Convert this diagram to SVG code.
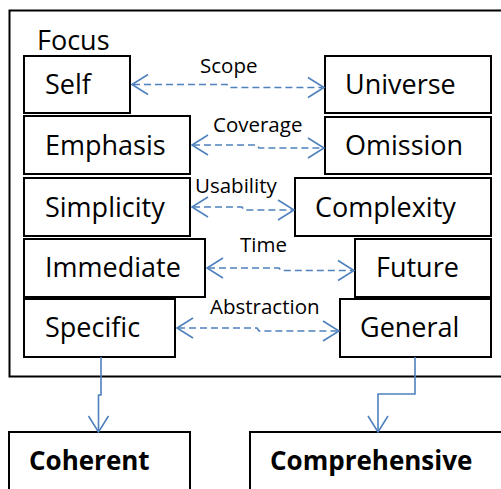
<svg xmlns="http://www.w3.org/2000/svg" width="501" height="489" viewBox="0 0 501 489">
<style>
.box{fill:#fff;stroke:#000;stroke-width:2}
.t{font-family:"Open Sans","Liberation Sans",sans-serif;font-size:27px;fill:#000}
.b{font-weight:bold;font-size:26px}
.lbl{font-family:"Open Sans","Liberation Sans",sans-serif;font-size:20.5px;fill:#000}
.c{fill:none;stroke:#4F81BD;stroke-width:1.6}
.d{stroke-dasharray:7,4}
</style>
<rect width="501" height="489" fill="#fff"/>
<g id="focus">
<rect x="9.5" y="10.5" width="500" height="366" fill="#fff" stroke="#000" stroke-width="2"/>
<text class="t" x="37" y="50">Focus</text>
</g>
<g id="self"><rect class="box" x="24" y="56" width="106" height="57"/><text class="t" x="45" y="94">Self</text></g>
<g id="emphasis"><rect class="box" x="24" y="116" width="166" height="58"/><text class="t" x="45" y="155">Emphasis</text></g>
<g id="simplicity"><rect class="box" x="24" y="178" width="166" height="58"/><text class="t" x="45" y="217">Simplicity</text></g>
<g id="immediate"><rect class="box" x="24" y="239" width="181" height="58"/><text class="t" x="45" y="277">Immediate</text></g>
<g id="specific"><rect class="box" x="24" y="299" width="151" height="58"/><text class="t" x="45" y="337">Specific</text></g>
<g id="universe"><rect class="box" x="325" y="56" width="166" height="57"/><text class="t" x="345" y="94">Universe</text></g>
<g id="omission"><rect class="box" x="325" y="117" width="166" height="57"/><text class="t" x="345" y="155">Omission</text></g>
<g id="complexity"><rect class="box" x="295" y="178" width="196" height="58"/><text class="t" x="315" y="217">Complexity</text></g>
<g id="future"><rect class="box" x="355" y="239" width="136" height="58"/><text class="t" x="376" y="277">Future</text></g>
<g id="general"><rect class="box" x="340" y="299" width="151" height="58"/><text class="t" x="360" y="337">General</text></g>
<g id="coherent"><rect class="box" x="9" y="432" width="181" height="70"/><text class="t b" x="29" y="470">Coherent</text></g>
<g id="comprehensive"><rect class="box" x="250" y="432" width="270" height="70"/><text class="t b" x="270" y="470">Comprehensive</text></g>
<g id="connectors">
<path class="c d" d="M133,84.5 H227 L229,87.5 H322"/>
<path class="c" d="M148,74.5 L132,84.5 L148,94.5 M308,77.5 L324,87.5 L308,97.5"/>
<text class="lbl" x="200" y="73">Scope</text>
<path class="c d" d="M193,145 H257 L259,148 H322"/>
<path class="c" d="M208,135 L192,145 L208,155 M308,138 L324,148 L308,158"/>
<text class="lbl" x="213" y="132">Coverage</text>
<path class="c d" d="M193,207 H242 L244,210 H292"/>
<path class="c" d="M208,197 L192,207 L208,217 M278,200 L294,210 L278,220"/>
<text class="lbl" x="195" y="193">Usability</text>
<path class="c d" d="M208,268 H279 L281,270.5 H352"/>
<path class="c" d="M223,258 L207,268 L223,278 M338,260.5 L354,270.5 L338,280.5"/>
<text class="lbl" x="240" y="252">Time</text>
<path class="c d" d="M178,328 H257 L259,331 H337"/>
<path class="c" d="M193,318 L177,328 L193,338 M323,321 L339,331 L323,341"/>
<text class="lbl" x="210" y="314">Abstraction</text>
<path class="c" d="M101,357 V395 H98.5 V431"/>
<path class="c" d="M88.5,416 L98.5,432 L108.5,416"/>
<path class="c" d="M415,357 V394 H378 V431"/>
<path class="c" d="M368,416 L378,432 L388,416"/>
</g>
</svg>
